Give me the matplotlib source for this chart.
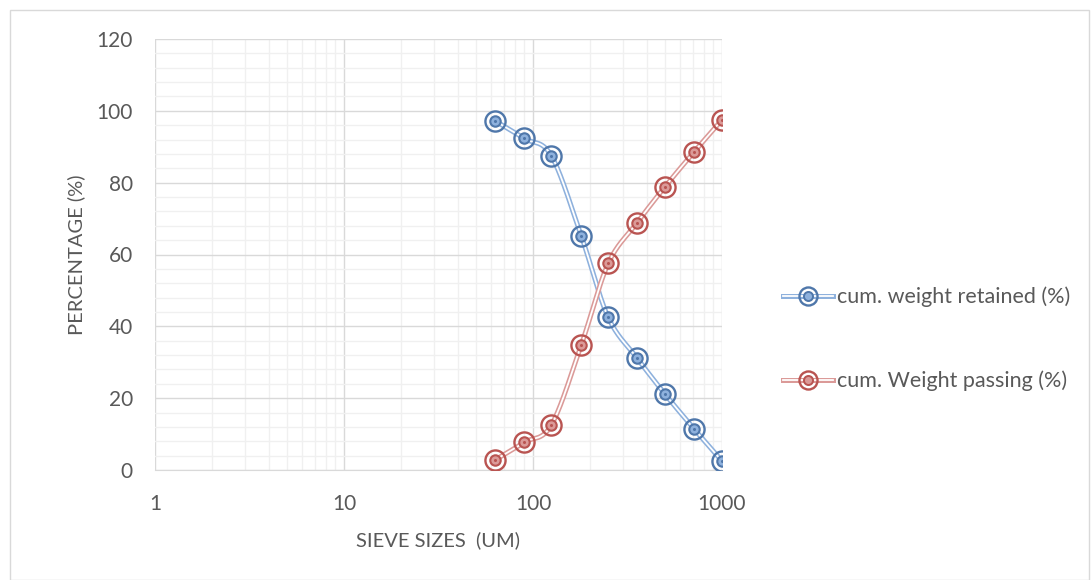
import numpy as np
import matplotlib
matplotlib.use("Agg")
import matplotlib.pyplot as plt
from matplotlib.lines import Line2D
from matplotlib.patches import Rectangle
from matplotlib.ticker import FixedLocator, LogLocator, NullFormatter

plt.rcParams['font.family'] = ['Lato', 'DejaVu Sans']

sieve_sizes = [63, 90, 125, 180, 250, 355, 500, 710, 1000]
retained = [97.2, 92.3, 87.5, 65.2, 42.5, 31.2, 21.1, 11.5, 2.5]
passing = [2.8, 7.7, 12.5, 34.8, 57.5, 68.8, 78.9, 88.5, 97.5]
series_names = ["cum. weight retained (%)", "cum. Weight passing (%)"]
x_ticks = [1, 10, 100, 1000]
y_ticks = [0, 20, 40, 60, 80, 100, 120]

TEXT = "#595959"
BLUE_MK, BLUE_LN = "#4F77AA", "#8EB1DD"
RED_MK, RED_LN = "#B95451", "#DB9A98"

fig = plt.figure(figsize=(10.91, 5.8), dpi=100)
fig.patches.append(Rectangle((10 / 1091, 0.0), 1079 / 1091, 570 / 580,
                             transform=fig.transFigure, fill=False,
                             edgecolor="#D9D9D9", linewidth=1.0))
ax = fig.add_axes([155 / 1091, 1 - 470 / 580, (722 - 155) / 1091, (470 - 39) / 580])
ax.set_xscale("log")
ax.set_xlim(1, 1000)
ax.set_ylim(0, 120)


def smooth(xs, ys, n=30):
    """Catmull-Rom curve through the points, computed in screen-like units."""
    px = np.log10(np.asarray(xs, float)) * 189.0
    py = np.asarray(ys, float) * 3.59
    P = np.column_stack([px, py])
    P = np.vstack([2 * P[0] - P[1], P, 2 * P[-1] - P[-2]])
    out = []
    t = np.linspace(0, 1, n)[:, None]
    for i in range(1, len(P) - 2):
        p0, p1, p2, p3 = P[i - 1], P[i], P[i + 1], P[i + 2]
        m1 = (p2 - p0) / 2
        m2 = (p3 - p1) / 2
        h00 = 2 * t**3 - 3 * t**2 + 1
        h10 = t**3 - 2 * t**2 + t
        h01 = -2 * t**3 + 3 * t**2
        h11 = t**3 - t**2
        seg = h00 * p1 + h10 * m1 + h01 * p2 + h11 * m2
        out.append(seg if i == 1 else seg[1:])
    C = np.vstack(out)
    return 10 ** (C[:, 0] / 189.0), C[:, 1] / 3.59


handles = []
for ys, mk, ln in [(retained, BLUE_MK, BLUE_LN), (passing, RED_MK, RED_LN)]:
    sx, sy = smooth(sieve_sizes, ys)
    ax.plot(sx, sy, color=ln, lw=3.6, solid_capstyle="butt", zorder=3)
    ax.plot(sx, sy, color="white", lw=1.3, solid_capstyle="butt", zorder=3)
    ax.plot(sieve_sizes, ys, ls="none", marker="o", ms=14.5, mfc="none",
            mec=mk, mew=1.7, zorder=4)
    ax.plot(sieve_sizes, ys, ls="none", marker="o", ms=7.5, mfc=ln,
            mec=mk, mew=1.5, zorder=5)
    ax.plot(sieve_sizes, ys, ls="none", marker="o", ms=2.2, mfc=mk,
            mec=mk, mew=0, zorder=6)
    h = (Line2D([], [], color=ln, lw=3.6),
         Line2D([], [], color="white", lw=1.3),
         Line2D([], [], ls="none", marker="o", ms=13, mfc="none", mec=mk, mew=1.7),
         Line2D([], [], ls="none", marker="o", ms=6.5, mfc=ln, mec=mk, mew=1.4))
    handles.append(h)

ax.xaxis.set_major_locator(FixedLocator(x_ticks))
ax.set_xticklabels([str(v) for v in x_ticks])
ax.xaxis.set_minor_locator(LogLocator(base=10, subs=np.arange(2, 10)))
ax.xaxis.set_minor_formatter(NullFormatter())
ax.set_yticks(y_ticks)
ax.set_yticks(np.arange(0, 121, 4), minor=True)

ax.grid(True, which="minor", color="#F0F0F0", lw=1.0, zorder=0)
ax.grid(True, which="major", color="#D9D9D9", lw=1.0, zorder=1)
ax.set_axisbelow(True)
for s in ["top", "right", "left"]:
    ax.spines[s].set_visible(False)
ax.spines["bottom"].set_color("#D9D9D9")
ax.tick_params(which="both", length=0, colors=TEXT, labelsize=15)
ax.tick_params(axis="x", pad=17)
ax.tick_params(axis="y", pad=16)

ax.set_xlabel("SIEVE SIZES  (UM)", color=TEXT, fontsize=14.5, labelpad=13)
ax.set_ylabel("PERCENTAGE (%)", color=TEXT, fontsize=14.5, labelpad=8)

fig.legend(handles, series_names, loc="center left",
           bbox_to_anchor=(764 / 1091, 1 - 339 / 580), frameon=False,
           fontsize=15.5, labelcolor=TEXT, handlelength=2.3, handletextpad=0.2,
           labelspacing=2.95)

fig.savefig("out.png", dpi=100)
